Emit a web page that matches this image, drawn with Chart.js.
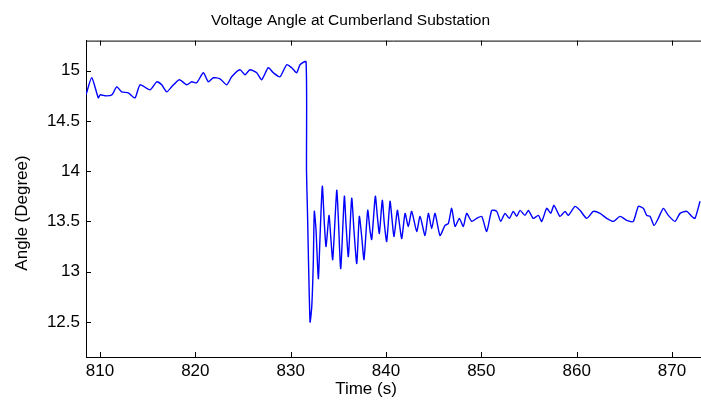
<!DOCTYPE html>
<html lang="en">
<head>
    <meta charset="UTF-8">
    <script src="https://cdn.jsdelivr.net/npm/chart.js"></script>
    <style>
        body, html {
            margin: 0;
            padding: 0;
            background: #fff;
        }
        #wrap {
            width: 701px;
            height: 405px;
        }
    </style>
</head>
<body>
    <div id="wrap"><canvas id="chart"></canvas></div>
    <script>
        // time (s) and angle (degree)
        const times = [
            808.53, 809.13, 809.82, 810.0, 810.63, 811.26, 811.75, 812.27, 812.97, 813.67,
            814.2, 815.24, 815.95, 816.47, 817.0, 817.52, 818.32, 819.09, 819.62, 820.14,
            820.84, 821.36, 821.88, 822.59, 823.29, 823.81, 824.68, 825.21, 825.73, 826.44,
            826.96, 827.65, 828.18, 828.88, 829.58, 830.11, 830.63, 830.98, 831.61,
            831.66, 831.76, 832.03, 832.21, 832.37, 832.48, 832.66, 832.9, 833.08, 833.32,
            833.53, 833.71, 834.02, 834.2, 834.41, 834.83, 834.99, 835.25, 835.63, 835.8,
            836.05, 836.4, 836.64, 836.93, 837.2, 837.45, 837.69, 838.08, 838.32, 838.5,
            838.88, 839.09, 839.3, 839.61, 839.82, 840.07, 840.42, 840.6, 840.84, 841.19,
            841.4, 841.65, 842.0, 842.34, 842.69, 843.22, 843.57, 844.09, 844.44, 844.79,
            845.14, 845.66, 846.19, 846.54, 846.89, 847.24, 847.69, 848.11, 848.46, 848.99,
            849.51, 850.04, 850.56, 851.09, 851.61, 852.03, 852.48, 852.93, 853.35, 853.71,
            854.06, 854.58, 854.93, 855.45, 855.98, 856.33, 856.86, 857.28, 857.62, 858.25,
            858.78, 859.12, 859.83, 860.35, 861.05, 861.75, 862.45, 863.15, 863.84, 864.55,
            865.25, 865.94, 866.47, 866.99, 867.35, 867.7, 868.12, 868.56, 869.09, 869.61,
            870.31, 870.84, 871.54, 872.07, 872.41, 872.94
        ];
        const angles = [
            14.76, 14.93, 14.73, 14.76, 14.75, 14.76, 14.84, 14.79, 14.78, 14.73,
            14.86, 14.81, 14.89, 14.86, 14.79, 14.84, 14.91, 14.86, 14.89, 14.88,
            14.98, 14.89, 14.93, 14.92, 14.86, 14.94, 15.01, 14.96, 15.01, 14.98,
            14.91, 15.03, 14.98, 14.94, 15.06, 15.03, 14.98, 15.06, 15.09,
            14.0, 13.6, 12.5, 12.65, 13.08, 13.6, 13.41, 12.93, 13.35, 13.85,
            13.48, 13.25, 13.56, 13.35, 13.12, 13.81, 13.55, 13.03, 13.75, 13.48,
            13.15, 13.73, 13.41, 13.08, 13.55, 13.35, 13.12, 13.61, 13.41, 13.32,
            13.75, 13.55, 13.38, 13.71, 13.48, 13.3, 13.70, 13.55, 13.35, 13.61,
            13.48, 13.33, 13.58, 13.45, 13.60, 13.40, 13.55, 13.36, 13.58, 13.43,
            13.58, 13.36, 13.46, 13.48, 13.63, 13.45, 13.53, 13.45, 13.58, 13.50,
            13.53, 13.55, 13.40, 13.61, 13.60, 13.50, 13.58, 13.53, 13.60, 13.55,
            13.61, 13.56, 13.61, 13.53, 13.56, 13.50, 13.63, 13.58, 13.66, 13.55,
            13.60, 13.56, 13.65, 13.61, 13.53, 13.60, 13.58, 13.53, 13.50, 13.55,
            13.51, 13.50, 13.65, 13.63, 13.56, 13.55, 13.46, 13.53, 13.63, 13.56,
            13.50, 13.58, 13.60, 13.55, 13.53, 13.70
        ];
        const xTicks = [810, 820, 830, 840, 850, 860, 870];
        const yTicks = [12.5, 13, 13.5, 14, 14.5, 15];
        const xLabel = 'Time (s)';
        const yLabel = 'Angle (Degree)';

        const FONT = "'Liberation Sans', Arial, sans-serif";

        // matlab style inward ticks, top box line and axis labels
        const matlabAxes = {
            id: 'matlabAxes',
            afterDraw(chart) {
                const ctx = chart.ctx;
                const area = chart.chartArea;
                const xs = chart.scales.x, ys = chart.scales.y;
                ctx.save();
                ctx.strokeStyle = '#000';
                ctx.lineWidth = 1;
                ctx.beginPath();
                ctx.moveTo(area.left, area.top + 0.5);
                ctx.lineTo(area.right, area.top + 0.5);
                xTicks.forEach(v => {
                    const px = Math.round(xs.getPixelForValue(v)) + 0.5;
                    ctx.moveTo(px, area.bottom);
                    ctx.lineTo(px, area.bottom - 5);
                    ctx.moveTo(px, area.top);
                    ctx.lineTo(px, area.top + 5);
                });
                yTicks.forEach(v => {
                    const py = Math.round(ys.getPixelForValue(v)) + 0.5;
                    ctx.moveTo(area.left, py);
                    ctx.lineTo(area.left + 5, py);
                });
                ctx.stroke();

                // labels sit a little off-centre in the original figure
                ctx.fillStyle = '#000';
                ctx.font = '17px ' + FONT;
                ctx.textAlign = 'center';
                ctx.textBaseline = 'middle';
                ctx.fillText(xLabel, 366, 389);
                ctx.translate(22, 213);
                ctx.rotate(-Math.PI / 2);
                ctx.fillText(yLabel, 0, 0);
                ctx.restore();
            }
        };

        new Chart(document.getElementById('chart'), {
            type: 'scatter',
            data: {
                datasets: [{
                    data: times.map((t, i) => ({ x: t, y: angles[i] })),
                    showLine: true,
                    borderColor: '#0000ff',
                    borderWidth: 1.4,
                    pointRadius: 0,
                    tension: 0.2
                }]
            },
            options: {
                responsive: true,
                maintainAspectRatio: false,
                animation: false,
                layout: { padding: 0 },
                plugins: {
                    legend: { display: false },
                    tooltip: { enabled: false },
                    title: {
                        display: true,
                        text: 'Voltage Angle at Cumberland Substation',
                        color: '#000',
                        font: { family: FONT, size: 15.5, weight: 'normal' },
                        padding: { top: 11, bottom: 11 }
                    }
                },
                scales: {
                    x: {
                        type: 'linear',
                        min: 808.53,
                        max: 873.04,
                        afterBuildTicks: s => { s.ticks = xTicks.map(v => ({ value: v })); },
                        afterFit: s => { s.height = 48; },
                        grid: { display: false, drawTicks: false },
                        border: { display: true, color: '#000', width: 1 },
                        ticks: {
                            color: '#000',
                            padding: 4,
                            maxRotation: 0,
                            font: { family: FONT, size: 17 }
                        }
                    },
                    y: {
                        min: 12.15,
                        max: 15.3,
                        afterBuildTicks: s => { s.ticks = yTicks.map(v => ({ value: v })); },
                        afterFit: s => { s.width = 86; },
                        grid: { display: false, drawTicks: false },
                        border: { display: true, color: '#000', width: 1 },
                        ticks: {
                            color: '#000',
                            padding: 6,
                            font: { family: FONT, size: 17 },
                            callback: v => String(v)
                        }
                    }
                }
            },
            plugins: [matlabAxes]
        });
    </script>
</body>
</html>
